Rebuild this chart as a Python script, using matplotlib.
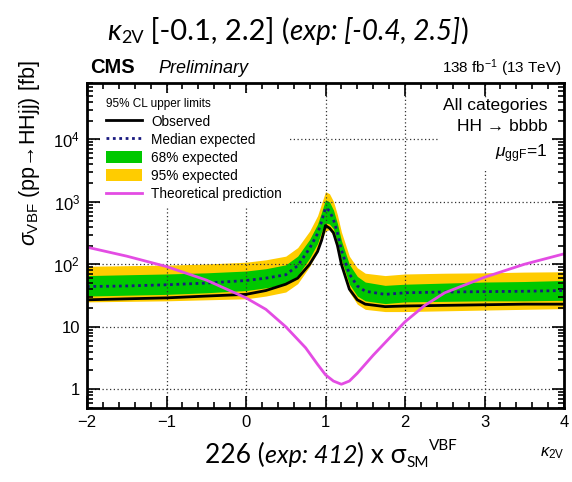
import matplotlib
matplotlib.use("Agg")
import matplotlib.pyplot as plt
from matplotlib.lines import Line2D
from matplotlib.patches import Patch
from matplotlib.ticker import FixedLocator, FuncFormatter, LogLocator, MultipleLocator, NullFormatter

# kappa_2V scan points and 95% CL limits on sigma_VBF [fb]
kv = [-2, -1.5, -1, -0.5, 0, 0.25, 0.5, 0.65, 0.8, 0.9, 0.95, 1.0, 1.05, 1.1, 1.15,
      1.2, 1.3, 1.4, 1.5, 1.75, 2, 2.5, 3, 3.5, 4]
observed = [27, 28, 29, 31, 33, 38, 48, 60, 100, 160, 240, 418, 380, 320, 200,
            100, 40, 27, 23, 21, 21.5, 22, 22.5, 23, 23]
median_exp = [44, 45, 47, 50, 55, 60, 68, 95, 180, 310, 480, 800, 720, 520, 320,
              170, 70, 45, 37, 33, 35, 36, 36.5, 37, 38]
band68_lo = [31, 32, 33, 35, 38, 42, 48, 66, 125, 215, 330, 460, 440, 370, 225,
             118, 48, 31, 26, 23.5, 25, 25.5, 26, 26, 26.5]
band68_hi = [66, 68, 70, 73, 78, 85, 98, 135, 250, 440, 680, 1080, 1000, 740, 450,
             240, 100, 64, 52, 46, 48, 50, 52, 53, 55]
band95_lo = [25, 25.5, 26, 27, 28, 31, 36, 49, 92, 160, 245, 340, 360, 280, 170,
             88, 36, 23, 19, 17.5, 17.5, 18, 18.5, 19, 19.5]
band95_hi = [93, 95, 97, 101, 108, 118, 135, 185, 340, 600, 940, 1450, 1350, 1020, 620,
             330, 135, 88, 72, 66, 70, 72, 73, 75, 76]

# theoretical prediction
k_theo = [-2, -1.5, -1, -0.5, 0, 0.25, 0.5, 0.75, 0.9, 1.0, 1.1, 1.2, 1.3, 1.4,
          1.6, 1.8, 2.0, 2.25, 2.5, 3.0, 3.5, 4.0]
sigma_theo = [188, 135, 92, 56, 29, 19, 10, 4.6, 2.5, 1.7, 1.35, 1.2, 1.35, 1.8,
              3.5, 6.5, 12, 22, 35, 62, 100, 147]

y_ticks = [1, 10, 100, 1000, 10000]
y_tick_labels = ["1", "10", "$10^{2}$", "$10^{3}$", "$10^{4}$"]
legend_labels = ["Observed", "Median expected", "68% expected", "95% expected",
                 "Theoretical prediction"]

GREEN = "#00c800"
YELLOW = "#ffcc00"
MAGENTA = "#e34ce3"
NAVY = "#1a1a80"

plt.rcParams["font.family"] = ["Liberation Sans", "DejaVu Sans"]
plt.rcParams["mathtext.fontset"] = "custom"
plt.rcParams["mathtext.rm"] = "Liberation Sans"
plt.rcParams["mathtext.it"] = "Liberation Sans:italic"
plt.rcParams["mathtext.bf"] = "Liberation Sans:bold"
plt.rcParams["mathtext.sf"] = "Liberation Sans"

W, H = 572, 482
fig = plt.figure(figsize=(W / 100, H / 100), dpi=100)
ax = fig.add_axes([87 / W, 74 / H, 477 / W, 325 / H])

ax.fill_between(kv, band95_lo, band95_hi, color=YELLOW, lw=0)
ax.fill_between(kv, band68_lo, band68_hi, color=GREEN, lw=0)
ax.plot(kv, median_exp, color=NAVY, lw=2, ls=(0, (1, 1.3)))
ax.plot(kv, observed, color="black", lw=2)
ax.plot(k_theo, sigma_theo, color=MAGENTA, lw=2)

ax.set_yscale("log")
ax.set_xlim(-2, 4)
ax.set_ylim(0.5, 8e4)

ax.xaxis.set_major_locator(MultipleLocator(1))
ax.xaxis.set_minor_locator(MultipleLocator(0.2))
ax.yaxis.set_major_locator(FixedLocator(y_ticks))
ax.yaxis.set_major_formatter(FuncFormatter(lambda v, p: y_tick_labels[y_ticks.index(round(v))] if round(v) in y_ticks else ""))
ax.yaxis.set_minor_locator(LogLocator(base=10, subs=range(2, 10), numticks=20))
ax.yaxis.set_minor_formatter(NullFormatter())
ax.tick_params(which="both", direction="in", top=True, right=True, width=1.2)
ax.tick_params(which="major", length=9, labelsize=12, pad=5)
ax.tick_params(which="minor", length=4.5)
for s in ax.spines.values():
    s.set_linewidth(2)

ax.grid(True, which="major", color="0.2", ls=(0, (1, 2)), lw=0.9)
ax.set_axisbelow("line")

handles = [Line2D([], [], color="black", lw=2),
           Line2D([], [], color=NAVY, lw=2, ls=(0, (1, 1.3))),
           Patch(fc=GREEN), Patch(fc=YELLOW),
           Line2D([], [], color=MAGENTA, lw=2)]
leg = ax.legend(handles, legend_labels, loc="upper left", bbox_to_anchor=(0.015, 0.99),
                title="95% CL upper limits", title_fontsize=8.5, fontsize=9.8,
                frameon=True, fancybox=False, edgecolor="none", framealpha=1,
                handlelength=2.6, handleheight=1.0, handletextpad=0.7,
                labelspacing=0.3, borderpad=0.4, alignment="left")

ax.text(0.965, 0.955, "All categories\nHH → bbbb\n$\\mu_{\\rm ggF}$=1",
        transform=ax.transAxes, ha="right", va="top", fontsize=12.5, linespacing=1.55,
        bbox=dict(fc="white", ec="none", pad=3))

fig.text(90 / W, 1 - 73 / H, "CMS", weight="bold", fontsize=14.5, va="baseline")
fig.text(158 / W, 1 - 73 / H, "Preliminary", style="italic", fontsize=13, va="baseline")
fig.text(562 / W, 1 - 73 / H, "138 fb$^{-1}$ (13 TeV)", ha="right", fontsize=11, va="baseline")
fig.text(30 / W, 1 - 60 / H, "$\\sigma_{\\rm VBF}$ (pp→HHjj) [fb]", rotation=90,
         ha="center", va="top", fontsize=15.5)
fig.text(564 / W, 1 - 456 / H, "$\\kappa_{\\rm 2V}$", ha="right", va="baseline", fontsize=12)


def rich_line(x0, y0, pieces):
    # chain text pieces left to right, each starting where the previous one ends
    prev = None
    for s, size, style, dy in pieces:
        kw = dict(fontsize=size, style=style, family=["Lato", "DejaVu Sans"],
                  va="baseline", ha="left", annotation_clip=False,
                  textcoords="offset points", xytext=(0, dy))
        if prev is None:
            t = ax.annotate(s, xy=(x0, y0), xycoords="figure fraction", **kw)
        else:
            t = ax.annotate(s, xy=(1, y0), xycoords=(prev, "figure fraction"), **kw)
        prev = t


rich_line(107 / W, 1 - 40 / H, [("κ", 21, "italic", 0), ("2V", 13, "normal", -2),
                                (" [-0.1, 2.2] (", 21, "normal", 0),
                                ("exp: [-0.4, 2.5]", 20, "italic", 0), (")", 21, "normal", 0)])
rich_line(205 / W, 1 - 463 / H, [("226 (", 19, "normal", 0), ("exp: 412", 18, "italic", 0),
                                 (") x σ", 19, "normal", 0), ("SM", 11, "normal", -3),
                                 ("VBF", 11, "normal", 9)])

fig.savefig("out.png", dpi=100)
